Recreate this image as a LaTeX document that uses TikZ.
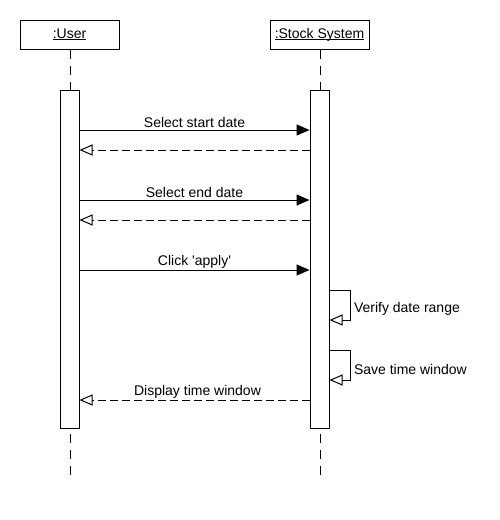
\documentclass[tikz,border=0pt]{standalone}
\usepackage{fontspec}
\newfontfamily\arialf{Liberation Sans}
\usetikzlibrary{arrows.meta}
\newcommand\ulname[1]{\underline{\smash{#1}}}
\begin{document}
\begin{tikzpicture}[x=1pt,y=-1pt,line width=1pt,
  font=\arialf\fontsize{14}{16}\selectfont,
  head/.style={draw,fill=white,minimum width=99pt,minimum height=29pt,inner sep=0pt,text height=10pt,text depth=3pt},
  act/.style={draw,fill=white,minimum width=19pt,minimum height=338pt,inner sep=0pt},
  life/.style={dash pattern=on 9pt off 7pt},
  call/.style={-{Triangle[length=13pt,width=11pt]}},
  ret/.style={dash pattern=on 8pt off 4pt,-{Triangle[open,length=13pt,width=11pt]}},
  self/.style={-{Triangle[open,length=13pt,width=11pt]}},
  lbl/.style={inner sep=1.5pt}]
\useasboundingbox (0,0) rectangle (500,520);
\node[head] (user) at (69.5,34.5) {\ulname{:User}};
\node[head] (sys) at (319.5,34.5) {\ulname{:Stock System}};
\coordinate (ue) at (70,478);
\coordinate (se) at (320,478);
\draw[life] (user.south -| ue) -- (ue);
\draw[life] (sys.south -| se) -- (se);
\node[act] (ua) at (69.5,259) {};
\node[act] (sa) at (319.5,259) {};
% messages
\foreach \n/\y in {m1/130,r1/150,m2/200,r2/220,m3/270,r3/400}{
  \coordinate (\n u) at (ua.east |- 0,\y);
  \coordinate (\n s) at (sa.west |- 0,\y);
}
\draw[call] (m1u) -- node[lbl,above] {Select start date} (m1s);
\draw[ret] (r1s) -- (r1u);
\draw[call] (m2u) -- node[lbl,above] {Select end date} (m2s);
\draw[ret] (r2s) -- (r2u);
\draw[call] (m3u) -- node[lbl,above] {Click 'apply'} (m3s);
\draw[ret] (r3s) -- node[lbl,above,xshift=3pt] {Display time window} (r3u);
% self calls
\coordinate (v1) at (sa.east |- 0,290);
\coordinate (v2) at (sa.east |- 0,320);
\draw[self] (v1) -- ++(21,0) coordinate (v3) |- (v2);
\node[anchor=west,inner sep=3pt] (vl) at (v3 |- 0,309) {Verify date range};
\coordinate (w1) at (sa.east |- 0,350);
\coordinate (w2) at (sa.east |- 0,380);
\draw[self] (w1) -- ++(21,0) coordinate (w3) |- (w2);
\node[anchor=west,inner sep=3pt] (wl) at (w3 |- 0,369) {Save time window};
\end{tikzpicture}
\end{document}
